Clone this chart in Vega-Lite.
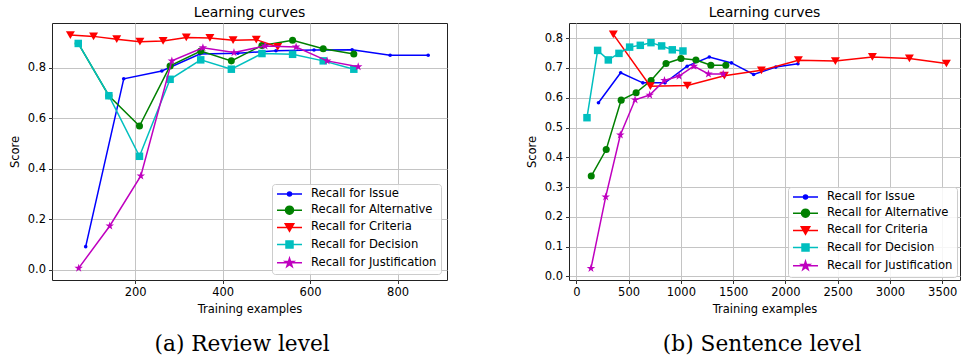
{
  "$schema": "https://vega.github.io/schema/vega-lite/v6.json",
  "padding": {"left": 8, "top": 5, "right": 0, "bottom": 0},
  "background": "white",
  "datasets": {
    "review": [
      {"series": "Recall for Issue", "examples": 87, "score": 0.092},
      {"series": "Recall for Issue", "examples": 174, "score": 0.757},
      {"series": "Recall for Issue", "examples": 261, "score": 0.788},
      {"series": "Recall for Issue", "examples": 348, "score": 0.855},
      {"series": "Recall for Issue", "examples": 435, "score": 0.858},
      {"series": "Recall for Issue", "examples": 522, "score": 0.868},
      {"series": "Recall for Issue", "examples": 609, "score": 0.871},
      {"series": "Recall for Issue", "examples": 696, "score": 0.872},
      {"series": "Recall for Issue", "examples": 783, "score": 0.85},
      {"series": "Recall for Issue", "examples": 870, "score": 0.85},
      {"series": "Recall for Alternative", "examples": 70, "score": 0.897},
      {"series": "Recall for Alternative", "examples": 140, "score": 0.69},
      {"series": "Recall for Alternative", "examples": 210, "score": 0.57},
      {"series": "Recall for Alternative", "examples": 280, "score": 0.808},
      {"series": "Recall for Alternative", "examples": 350, "score": 0.867},
      {"series": "Recall for Alternative", "examples": 420, "score": 0.828},
      {"series": "Recall for Alternative", "examples": 490, "score": 0.889},
      {"series": "Recall for Alternative", "examples": 560, "score": 0.91},
      {"series": "Recall for Alternative", "examples": 630, "score": 0.876},
      {"series": "Recall for Alternative", "examples": 700, "score": 0.855},
      {"series": "Recall for Criteria", "examples": 52, "score": 0.93},
      {"series": "Recall for Criteria", "examples": 105, "score": 0.925},
      {"series": "Recall for Criteria", "examples": 158, "score": 0.914},
      {"series": "Recall for Criteria", "examples": 211, "score": 0.904},
      {"series": "Recall for Criteria", "examples": 264, "score": 0.907},
      {"series": "Recall for Criteria", "examples": 317, "score": 0.921},
      {"series": "Recall for Criteria", "examples": 371, "score": 0.919},
      {"series": "Recall for Criteria", "examples": 424, "score": 0.91},
      {"series": "Recall for Criteria", "examples": 477, "score": 0.912},
      {"series": "Recall for Criteria", "examples": 526, "score": 0.883},
      {"series": "Recall for Decision", "examples": 70, "score": 0.897},
      {"series": "Recall for Decision", "examples": 140, "score": 0.69},
      {"series": "Recall for Decision", "examples": 210, "score": 0.45},
      {"series": "Recall for Decision", "examples": 280, "score": 0.755},
      {"series": "Recall for Decision", "examples": 350, "score": 0.832},
      {"series": "Recall for Decision", "examples": 420, "score": 0.795},
      {"series": "Recall for Decision", "examples": 490, "score": 0.857},
      {"series": "Recall for Decision", "examples": 560, "score": 0.854},
      {"series": "Recall for Decision", "examples": 630, "score": 0.828},
      {"series": "Recall for Decision", "examples": 700, "score": 0.795},
      {"series": "Recall for Justification", "examples": 71, "score": 0.007},
      {"series": "Recall for Justification", "examples": 142, "score": 0.174},
      {"series": "Recall for Justification", "examples": 213, "score": 0.372},
      {"series": "Recall for Justification", "examples": 284, "score": 0.828},
      {"series": "Recall for Justification", "examples": 355, "score": 0.88},
      {"series": "Recall for Justification", "examples": 426, "score": 0.861},
      {"series": "Recall for Justification", "examples": 497, "score": 0.887},
      {"series": "Recall for Justification", "examples": 568, "score": 0.883},
      {"series": "Recall for Justification", "examples": 639, "score": 0.828},
      {"series": "Recall for Justification", "examples": 710, "score": 0.805}
    ],
    "sentence": [
      {"series": "Recall for Issue", "examples": 212, "score": 0.583},
      {"series": "Recall for Issue", "examples": 424, "score": 0.684},
      {"series": "Recall for Issue", "examples": 636, "score": 0.65},
      {"series": "Recall for Issue", "examples": 848, "score": 0.65},
      {"series": "Recall for Issue", "examples": 1060, "score": 0.706},
      {"series": "Recall for Issue", "examples": 1272, "score": 0.737},
      {"series": "Recall for Issue", "examples": 1484, "score": 0.717},
      {"series": "Recall for Issue", "examples": 1696, "score": 0.678},
      {"series": "Recall for Issue", "examples": 1908, "score": 0.703},
      {"series": "Recall for Issue", "examples": 2120, "score": 0.714},
      {"series": "Recall for Alternative", "examples": 143, "score": 0.337},
      {"series": "Recall for Alternative", "examples": 286, "score": 0.426},
      {"series": "Recall for Alternative", "examples": 429, "score": 0.592},
      {"series": "Recall for Alternative", "examples": 572, "score": 0.617},
      {"series": "Recall for Alternative", "examples": 715, "score": 0.658},
      {"series": "Recall for Alternative", "examples": 858, "score": 0.715},
      {"series": "Recall for Alternative", "examples": 1001, "score": 0.732},
      {"series": "Recall for Alternative", "examples": 1144, "score": 0.727},
      {"series": "Recall for Alternative", "examples": 1287, "score": 0.709},
      {"series": "Recall for Alternative", "examples": 1430, "score": 0.709},
      {"series": "Recall for Criteria", "examples": 354, "score": 0.813},
      {"series": "Recall for Criteria", "examples": 708, "score": 0.639},
      {"series": "Recall for Criteria", "examples": 1062, "score": 0.641},
      {"series": "Recall for Criteria", "examples": 1416, "score": 0.674},
      {"series": "Recall for Criteria", "examples": 1770, "score": 0.692},
      {"series": "Recall for Criteria", "examples": 2124, "score": 0.726},
      {"series": "Recall for Criteria", "examples": 2478, "score": 0.723},
      {"series": "Recall for Criteria", "examples": 2832, "score": 0.737},
      {"series": "Recall for Criteria", "examples": 3186, "score": 0.732},
      {"series": "Recall for Criteria", "examples": 3540, "score": 0.715},
      {"series": "Recall for Decision", "examples": 102, "score": 0.533},
      {"series": "Recall for Decision", "examples": 204, "score": 0.759},
      {"series": "Recall for Decision", "examples": 306, "score": 0.727},
      {"series": "Recall for Decision", "examples": 408, "score": 0.749},
      {"series": "Recall for Decision", "examples": 510, "score": 0.77},
      {"series": "Recall for Decision", "examples": 612, "score": 0.776},
      {"series": "Recall for Decision", "examples": 714, "score": 0.785},
      {"series": "Recall for Decision", "examples": 816, "score": 0.774},
      {"series": "Recall for Decision", "examples": 918, "score": 0.761},
      {"series": "Recall for Decision", "examples": 1020, "score": 0.757},
      {"series": "Recall for Justification", "examples": 140, "score": 0.027},
      {"series": "Recall for Justification", "examples": 281, "score": 0.267},
      {"series": "Recall for Justification", "examples": 421, "score": 0.475},
      {"series": "Recall for Justification", "examples": 562, "score": 0.593},
      {"series": "Recall for Justification", "examples": 702, "score": 0.609},
      {"series": "Recall for Justification", "examples": 843, "score": 0.658},
      {"series": "Recall for Justification", "examples": 983, "score": 0.673},
      {"series": "Recall for Justification", "examples": 1124, "score": 0.706},
      {"series": "Recall for Justification", "examples": 1264, "score": 0.68},
      {"series": "Recall for Justification", "examples": 1405, "score": 0.68}
    ]
  },
  "resolve": {"scale": {"fill": "independent", "stroke": "independent", "shape": "independent", "color": "independent"}},
  "hconcat": [
    {
      "resolve": {"scale": {"fill": "independent", "stroke": "independent", "shape": "independent", "color": "independent"}},
      "title": {"text": "(a) Review level", "orient": "bottom", "anchor": "middle", "font": "DejaVu Serif", "fontSize": 21.7, "fontWeight": "normal", "offset": 19, "dx": 14, "color": "#000"},
      "vconcat": [
        {
          "title": {"text": "Learning curves", "anchor": "middle", "offset": 3},
          "width": 395,
          "height": 257,
          "data": {"name": "review"},
          "encoding": {
            "x": {"field": "examples", "type": "quantitative", "scale": {"domain": [10, 913], "nice": false, "zero": false}, "axis": {"values": [200, 400, 600, 800], "format": "d", "title": "Training examples"}},
            "y": {"field": "score", "type": "quantitative", "scale": {"domain": [-0.04, 0.978], "nice": false, "zero": false}, "axis": {"values": [0, 0.2, 0.4, 0.6, 0.8], "format": ".1f", "title": "Score"}}
          },
          "layer": [
            {"transform": [{"filter": "datum.series === 'Recall for Issue'"}], "mark": {"type": "line", "color": "#0000ff", "strokeWidth": 1.5}},
            {"transform": [{"filter": "datum.series === 'Recall for Issue'"}], "mark": {"type": "point", "filled": true, "opacity": 1, "color": "#0000ff", "shape": "circle", "size": 13}},
            {"transform": [{"filter": "datum.series === 'Recall for Alternative'"}], "mark": {"type": "line", "color": "#008000", "strokeWidth": 1.5}},
            {"transform": [{"filter": "datum.series === 'Recall for Alternative'"}], "mark": {"type": "point", "filled": true, "opacity": 1, "color": "#008000", "shape": "circle", "size": 50}},
            {"transform": [{"filter": "datum.series === 'Recall for Criteria'"}], "mark": {"type": "line", "color": "#ff0000", "strokeWidth": 1.5}},
            {"transform": [{"filter": "datum.series === 'Recall for Criteria'"}], "mark": {"type": "point", "filled": true, "opacity": 1, "color": "#ff0000", "shape": "triangle-down", "size": 80}},
            {"transform": [{"filter": "datum.series === 'Recall for Decision'"}], "mark": {"type": "line", "color": "#00bfbf", "strokeWidth": 1.5}},
            {"transform": [{"filter": "datum.series === 'Recall for Decision'"}], "mark": {"type": "point", "filled": true, "opacity": 1, "color": "#00bfbf", "shape": "square", "size": 56}},
            {"transform": [{"filter": "datum.series === 'Recall for Justification'"}], "mark": {"type": "line", "color": "#bf00bf", "strokeWidth": 1.5}},
            {"transform": [{"filter": "datum.series === 'Recall for Justification'"}], "mark": {"type": "point", "filled": true, "opacity": 1, "color": "#bf00bf", "shape": "M0,-1L0.2245,-0.309L0.9511,-0.309L0.3633,0.118L0.5878,0.809L0,0.382L-0.5878,0.809L-0.3633,0.118L-0.9511,-0.309L-0.2245,-0.309Z", "size": 80}},
            {
              "transform": [{"filter": "false"}],
              "mark": {"type": "point", "filled": true, "opacity": 1},
              "encoding": {
                "fill": {"field": "series", "type": "nominal", "scale": {"domain": ["Recall for Issue", "Recall for Alternative", "Recall for Criteria", "Recall for Decision", "Recall for Justification"], "range": ["#0000ff", "#008000", "#ff0000", "#00bfbf", "#bf00bf"]}, "legend": {"title": null, "orient": "bottom-right", "offset": 6}},
                "stroke": {"field": "series", "type": "nominal", "scale": {"domain": ["Recall for Issue", "Recall for Alternative", "Recall for Criteria", "Recall for Decision", "Recall for Justification"], "range": ["#0000ff", "#008000", "#ff0000", "#00bfbf", "#bf00bf"]}, "legend": {"title": null, "orient": "bottom-right", "offset": 6}},
                "shape": {"field": "series", "type": "nominal", "scale": {"domain": ["Recall for Issue", "Recall for Alternative", "Recall for Criteria", "Recall for Decision", "Recall for Justification"], "range": ["M-1,0L4,0M1.9,0A0.4,0.4,0,1,1,1.1,0A0.4,0.4,0,1,1,1.9,0Z", "M-1,0L4,0M2.3,0A0.8,0.8,0,1,1,0.7,0A0.8,0.8,0,1,1,2.3,0Z", "M-1,0L4,0M0.65,-0.72L2.35,-0.72L1.5,0.75Z", "M-1,0L4,0M0.8,-0.7L2.2,-0.7L2.2,0.7L0.8,0.7Z", "M-1,0L4,0M1.5,-0.9L1.702,-0.278L2.356,-0.278L1.827,0.106L2.029,0.728L1.5,0.344L0.971,0.728L1.173,0.106L0.644,-0.278L1.298,-0.278Z"]}, "legend": {"title": null, "orient": "bottom-right", "offset": 6}}
              }
            }
          ]
        }
      ]
    },
    {
      "resolve": {"scale": {"fill": "independent", "stroke": "independent", "shape": "independent", "color": "independent"}},
      "title": {"text": "(b) Sentence level", "orient": "bottom", "anchor": "middle", "font": "DejaVu Serif", "fontSize": 21.7, "fontWeight": "normal", "offset": 19, "dx": 19, "color": "#000"},
      "vconcat": [
        {
          "title": {"text": "Learning curves", "anchor": "middle", "offset": 3},
          "width": 391,
          "height": 257,
          "data": {"name": "sentence"},
          "encoding": {
            "x": {"field": "examples", "type": "quantitative", "scale": {"domain": [-70, 3670], "nice": false, "zero": false}, "axis": {"values": [0, 500, 1000, 1500, 2000, 2500, 3000, 3500], "format": "d", "title": "Training examples"}},
            "y": {"field": "score", "type": "quantitative", "scale": {"domain": [-0.012, 0.851], "nice": false, "zero": false}, "axis": {"values": [0, 0.1, 0.2, 0.3, 0.4, 0.5, 0.6, 0.7, 0.8], "format": ".1f", "title": "Score"}}
          },
          "layer": [
            {"transform": [{"filter": "datum.series === 'Recall for Issue'"}], "mark": {"type": "line", "color": "#0000ff", "strokeWidth": 1.5}},
            {"transform": [{"filter": "datum.series === 'Recall for Issue'"}], "mark": {"type": "point", "filled": true, "opacity": 1, "color": "#0000ff", "shape": "circle", "size": 13}},
            {"transform": [{"filter": "datum.series === 'Recall for Alternative'"}], "mark": {"type": "line", "color": "#008000", "strokeWidth": 1.5}},
            {"transform": [{"filter": "datum.series === 'Recall for Alternative'"}], "mark": {"type": "point", "filled": true, "opacity": 1, "color": "#008000", "shape": "circle", "size": 50}},
            {"transform": [{"filter": "datum.series === 'Recall for Criteria'"}], "mark": {"type": "line", "color": "#ff0000", "strokeWidth": 1.5}},
            {"transform": [{"filter": "datum.series === 'Recall for Criteria'"}], "mark": {"type": "point", "filled": true, "opacity": 1, "color": "#ff0000", "shape": "triangle-down", "size": 80}},
            {"transform": [{"filter": "datum.series === 'Recall for Decision'"}], "mark": {"type": "line", "color": "#00bfbf", "strokeWidth": 1.5}},
            {"transform": [{"filter": "datum.series === 'Recall for Decision'"}], "mark": {"type": "point", "filled": true, "opacity": 1, "color": "#00bfbf", "shape": "square", "size": 56}},
            {"transform": [{"filter": "datum.series === 'Recall for Justification'"}], "mark": {"type": "line", "color": "#bf00bf", "strokeWidth": 1.5}},
            {"transform": [{"filter": "datum.series === 'Recall for Justification'"}], "mark": {"type": "point", "filled": true, "opacity": 1, "color": "#bf00bf", "shape": "M0,-1L0.2245,-0.309L0.9511,-0.309L0.3633,0.118L0.5878,0.809L0,0.382L-0.5878,0.809L-0.3633,0.118L-0.9511,-0.309L-0.2245,-0.309Z", "size": 80}},
            {
              "transform": [{"filter": "false"}],
              "mark": {"type": "point", "filled": true, "opacity": 1},
              "encoding": {
                "fill": {"field": "series", "type": "nominal", "scale": {"domain": ["Recall for Issue", "Recall for Alternative", "Recall for Criteria", "Recall for Decision", "Recall for Justification"], "range": ["#0000ff", "#008000", "#ff0000", "#00bfbf", "#bf00bf"]}, "legend": {"title": null, "orient": "bottom-right", "offset": 3}},
                "stroke": {"field": "series", "type": "nominal", "scale": {"domain": ["Recall for Issue", "Recall for Alternative", "Recall for Criteria", "Recall for Decision", "Recall for Justification"], "range": ["#0000ff", "#008000", "#ff0000", "#00bfbf", "#bf00bf"]}, "legend": {"title": null, "orient": "bottom-right", "offset": 3}},
                "shape": {"field": "series", "type": "nominal", "scale": {"domain": ["Recall for Issue", "Recall for Alternative", "Recall for Criteria", "Recall for Decision", "Recall for Justification"], "range": ["M-1,0L4,0M1.9,0A0.4,0.4,0,1,1,1.1,0A0.4,0.4,0,1,1,1.9,0Z", "M-1,0L4,0M2.3,0A0.8,0.8,0,1,1,0.7,0A0.8,0.8,0,1,1,2.3,0Z", "M-1,0L4,0M0.65,-0.72L2.35,-0.72L1.5,0.75Z", "M-1,0L4,0M0.8,-0.7L2.2,-0.7L2.2,0.7L0.8,0.7Z", "M-1,0L4,0M1.5,-0.9L1.702,-0.278L2.356,-0.278L1.827,0.106L2.029,0.728L1.5,0.344L0.971,0.728L1.173,0.106L0.644,-0.278L1.298,-0.278Z"]}, "legend": {"title": null, "orient": "bottom-right", "offset": 3}}
              }
            }
          ]
        }
      ]
    }
  ],
  "config": {
    "font": "DejaVu Sans",
    "view": {"stroke": "#222222", "strokeWidth": 1},
    "concat": {"spacing": 77},
    "title": {"font": "DejaVu Sans", "fontSize": 14, "fontWeight": "normal", "color": "#000000", "anchor": "middle"},
    "axis": {"domain": false, "grid": true, "gridColor": "#c4c4c4", "gridWidth": 1, "ticks": true, "tickColor": "#000000", "tickSize": 3.5, "tickWidth": 0.8, "labelFont": "DejaVu Sans", "labelFontSize": 11.5, "labelColor": "#000000", "labelPadding": 3, "titleFont": "DejaVu Sans", "titleFontSize": 11.5, "titleFontWeight": "normal", "titleColor": "#000000"},
    "axisX": {"titlePadding": 5},
    "axisY": {"titlePadding": 7},
    "legend": {"labelFont": "DejaVu Sans", "labelFontSize": 11.6, "labelColor": "#000000", "symbolSize": 100, "symbolStrokeWidth": 1.5, "padding": 4, "fillColor": "rgba(255,255,255,0.85)", "strokeColor": "#cccccc", "cornerRadius": 3, "rowPadding": 3.2, "labelOffset": 23}
  }
}
